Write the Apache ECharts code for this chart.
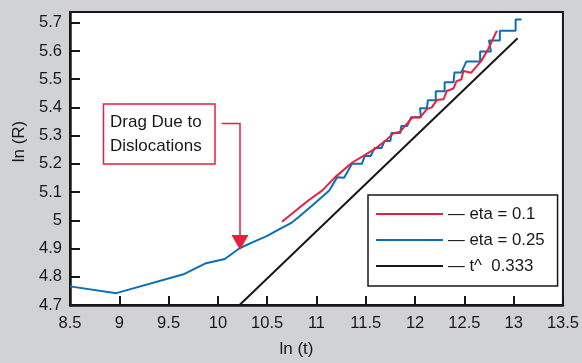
<!DOCTYPE html>
<html>
<head>
<meta charset="utf-8">
<script src="https://cdn.jsdelivr.net/npm/echarts@6/dist/echarts.min.js"></script>
<style>
  html, body { margin: 0; padding: 0; background: #d1d2d4; }
  #chart { width: 582px; height: 363px; }
</style>
</head>
<body>
<div id="chart"></div>
<script>
// ln(t) / ln(R) pairs
const etaLow = [
  [10.65, 4.995], [10.92, 5.071], [11.06, 5.106], [11.19, 5.153], [11.36, 5.204],
  [11.48, 5.229], [11.60, 5.255], [11.70, 5.282], [11.78, 5.308], [11.85, 5.314],
  [11.97, 5.364], [12.05, 5.364], [12.12, 5.394], [12.17, 5.400], [12.22, 5.426],
  [12.29, 5.429], [12.32, 5.458], [12.39, 5.467], [12.42, 5.493], [12.47, 5.499],
  [12.49, 5.529], [12.57, 5.523], [12.67, 5.564], [12.74, 5.605], [12.83, 5.672]
];

const etaHigh = [
  [8.50, 4.766], [8.97, 4.742], [9.66, 4.810], [9.88, 4.848], [10.07, 4.863],
  [10.22, 4.901], [10.35, 4.922], [10.50, 4.945], [10.62, 4.968], [10.75, 4.992],
  [10.82, 5.012], [10.96, 5.053], [11.13, 5.106], [11.21, 5.153], [11.28, 5.151],
  [11.36, 5.200], [11.46, 5.200], [11.49, 5.228], [11.55, 5.228], [11.59, 5.256],
  [11.66, 5.256], [11.69, 5.281], [11.75, 5.281], [11.76, 5.309], [11.85, 5.309],
  [11.86, 5.334], [11.92, 5.334], [11.96, 5.365], [12.06, 5.365], [12.05, 5.397],
  [12.12, 5.397], [12.13, 5.425], [12.21, 5.425], [12.21, 5.457], [12.30, 5.457],
  [12.30, 5.489], [12.39, 5.489], [12.40, 5.524], [12.47, 5.524], [12.52, 5.563],
  [12.66, 5.563], [12.66, 5.598], [12.77, 5.598], [12.75, 5.637], [12.86, 5.637],
  [12.86, 5.672], [13.02, 5.672], [13.02, 5.711], [13.08, 5.711]
];

const powerLaw = [[10.22, 4.70], [13.04, 5.645]];

const xTicks = [8.5, 9, 9.5, 10, 10.5, 11, 11.5, 12, 12.5, 13, 13.5];
const yTicks = [4.7, 4.8, 4.9, 5, 5.1, 5.2, 5.3, 5.4, 5.5, 5.6, 5.7];

const seriesNames = ['eta = 0.1', 'eta = 0.25', 't^  0.333'];

const RED = '#e8203f';
const BLUE = '#0b6fb5';
const INK = '#1a1718';
const FONT = '"Liberation Sans", Arial, sans-serif';

const chart = echarts.init(document.getElementById('chart'), null, { renderer: 'canvas' });

const option = {
  animation: false,
  backgroundColor: '#d1d2d4',
  textStyle: { fontFamily: FONT, color: INK },
  grid: {
    left: 70,
    right: 17,
    top: 12,
    bottom: 56,
    show: true,
    backgroundColor: '#fff',
    borderColor: INK,
    borderWidth: 2
  },
  legend: {
    data: seriesNames,
    orient: 'vertical',
    left: 368,
    top: 195,
    padding: [9, 13, 10, 8],
    itemGap: 6,
    itemWidth: 67,
    itemHeight: 2,
    icon: 'rect',
    backgroundColor: '#fff',
    borderColor: INK,
    borderWidth: 1.5,
    borderRadius: 0,
    formatter: '— {name}',
    textStyle: { fontFamily: FONT, fontSize: 16.8, lineHeight: 20, color: INK }
  },
  xAxis: {
    type: 'value',
    min: 8.5,
    max: 13.5,
    name: 'ln (t)',
    nameLocation: 'middle',
    nameGap: 36,
    nameTextStyle: { fontFamily: FONT, fontSize: 17, color: INK, padding: [0, 40, 0, 0] },
    splitLine: { show: false },
    axisLine: { show: true, onZero: false, lineStyle: { color: INK, width: 2.5 } },
    axisTick: { show: true, inside: true, length: 9, customValues: xTicks, lineStyle: { color: INK, width: 2 } },
    axisLabel: {
      customValues: xTicks,
      margin: 10,
      fontFamily: FONT,
      fontSize: 16.5,
      color: INK
    }
  },
  yAxis: {
    type: 'value',
    min: 4.7,
    max: 5.738,
    name: 'ln (R)',
    nameLocation: 'middle',
    nameRotate: 90,
    nameGap: 42,
    nameTextStyle: { fontFamily: FONT, fontSize: 17, color: INK, padding: [0, 0, 0, 34] },
    splitLine: { show: false },
    axisLine: { show: true, onZero: false, lineStyle: { color: INK, width: 2.5 } },
    axisTick: { show: true, inside: true, length: 10, customValues: yTicks, lineStyle: { color: INK, width: 2 } },
    axisLabel: {
      customValues: yTicks,
      margin: 8,
      fontFamily: FONT,
      fontSize: 16.5,
      color: INK
    }
  },
  series: [
    {
      name: seriesNames[1],
      type: 'line',
      data: etaHigh,
      symbol: 'none',
      showSymbol: false,
      lineStyle: { color: BLUE, width: 2 },
      itemStyle: { color: BLUE },
      z: 2
    },
    {
      name: seriesNames[0],
      type: 'line',
      data: etaLow,
      symbol: 'none',
      showSymbol: false,
      lineStyle: { color: RED, width: 2 },
      itemStyle: { color: RED },
      z: 3
    },
    {
      name: seriesNames[2],
      type: 'line',
      data: powerLaw,
      symbol: 'none',
      showSymbol: false,
      lineStyle: { color: INK, width: 2 },
      itemStyle: { color: INK },
      z: 2
    }
  ],
  graphic: [
    {
      type: 'rect',
      shape: { x: 103.5, y: 104, width: 111.5, height: 60 },
      style: { fill: '#fff', stroke: RED, lineWidth: 1.5 },
      z: 10
    },
    {
      type: 'text',
      x: 110,
      y: 110.5,
      style: {
        text: 'Drag Due to\nDislocations',
        font: '17px ' + FONT,
        lineHeight: 24,
        fill: INK,
        verticalAlign: 'top'
      },
      z: 11
    },
    {
      type: 'polyline',
      shape: { points: [[221.5, 123.5], [240, 123.5], [240, 236]] },
      style: { stroke: RED, lineWidth: 1.5, fill: null },
      z: 10
    },
    {
      type: 'polygon',
      shape: { points: [[231.5, 235], [248.5, 235], [240, 250]] },
      style: { fill: RED },
      z: 10
    }
  ]
};

chart.setOption(option);
window.addEventListener('resize', chart.resize);
</script>
</body>
</html>
